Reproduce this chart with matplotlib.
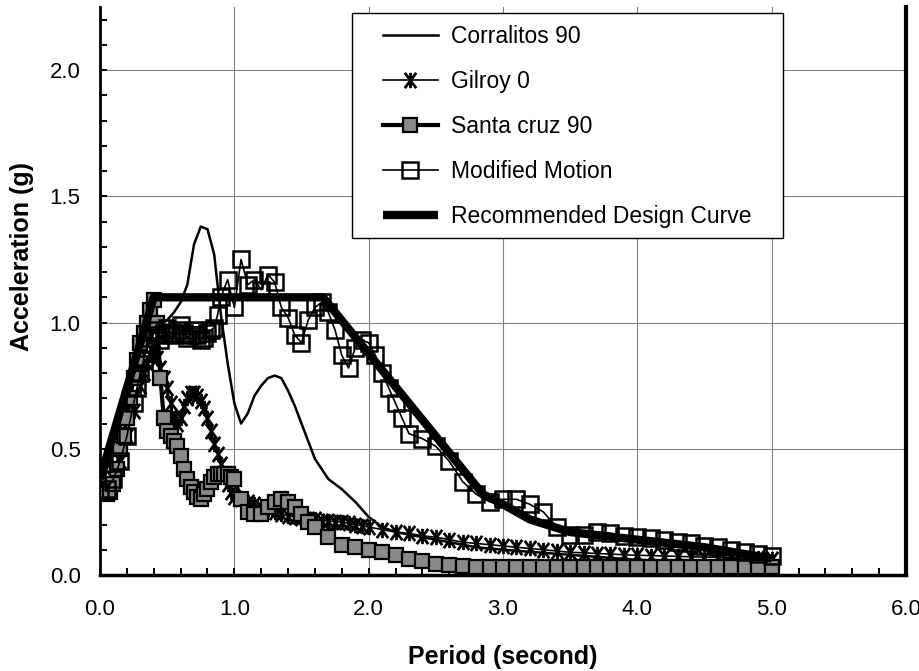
import matplotlib
matplotlib.use('Agg')
from matplotlib import pyplot as plt
from matplotlib.path import Path
from matplotlib.patches import Rectangle
from matplotlib.ticker import MultipleLocator, FormatStrFormatter

plt.rcParams['font.family'] = ['Liberation Sans', 'DejaVu Sans']

# spectral acceleration (g) vs period (s)
corralitos_t = [0.0, 0.05, 0.1, 0.15, 0.2, 0.25, 0.3, 0.35, 0.4, 0.45, 0.5, 0.55,
                0.6, 0.65, 0.7, 0.75, 0.8, 0.85, 0.9, 0.95, 1.0, 1.05, 1.1, 1.15,
                1.2, 1.25, 1.3, 1.35, 1.4, 1.45, 1.5, 1.6, 1.7, 1.8, 1.9, 2.0,
                2.1, 2.2, 2.4, 2.6, 2.8, 3.0, 3.5, 4.0, 4.5, 5.0]
corralitos_a = [0.40, 0.42, 0.48, 0.58, 0.68, 0.78, 0.86, 0.92, 0.96, 0.99, 1.01, 1.04,
                1.08, 1.15, 1.31, 1.38, 1.37, 1.27, 1.03, 0.84, 0.68, 0.60, 0.64, 0.71,
                0.75, 0.78, 0.79, 0.78, 0.73, 0.67, 0.60, 0.46, 0.38, 0.34, 0.29, 0.23,
                0.19, 0.17, 0.15, 0.13, 0.11, 0.10, 0.08, 0.06, 0.05, 0.04]

gilroy_t = [0.0, 0.05, 0.1, 0.15, 0.2, 0.25, 0.3, 0.325, 0.35, 0.375, 0.4, 0.425,
            0.45, 0.475, 0.5, 0.525, 0.55, 0.575, 0.6, 0.625, 0.65, 0.675, 0.7, 0.725,
            0.75, 0.775, 0.8, 0.825, 0.85, 0.875, 0.9, 0.925, 0.95, 0.975, 1.0, 1.05,
            1.1, 1.15, 1.2, 1.25, 1.3, 1.35, 1.4, 1.45, 1.5, 1.55, 1.6, 1.65,
            1.7, 1.75, 1.8, 1.85, 1.9, 1.95, 2.0, 2.1, 2.2, 2.3, 2.4, 2.5,
            2.6, 2.7, 2.8, 2.9, 3.0, 3.1, 3.2, 3.3, 3.4, 3.5, 3.6, 3.7,
            3.8, 3.9, 4.0, 4.1, 4.2, 4.3, 4.4, 4.5, 4.6, 4.7, 4.8, 4.9, 5.0]
gilroy_a = [0.33, 0.34, 0.38, 0.45, 0.55, 0.65, 0.75, 0.80, 0.84, 0.87, 0.88, 0.86,
            0.82, 0.78, 0.74, 0.68, 0.62, 0.60, 0.62, 0.67, 0.70, 0.72, 0.72, 0.71,
            0.69, 0.66, 0.62, 0.57, 0.52, 0.48, 0.44, 0.40, 0.36, 0.33, 0.31, 0.30,
            0.29, 0.28, 0.27, 0.26, 0.25, 0.24, 0.235, 0.23, 0.225, 0.22, 0.22, 0.215,
            0.215, 0.21, 0.21, 0.205, 0.20, 0.195, 0.19, 0.18, 0.17, 0.165, 0.155, 0.15,
            0.14, 0.13, 0.125, 0.12, 0.115, 0.11, 0.105, 0.10, 0.095, 0.09, 0.088, 0.085,
            0.083, 0.08, 0.078, 0.077, 0.075, 0.074, 0.072, 0.071, 0.07, 0.068, 0.067, 0.066, 0.065]

santa_cruz_t = [0.0, 0.025, 0.05, 0.075, 0.1, 0.125, 0.15, 0.175, 0.2, 0.225, 0.25, 0.275,
                0.3, 0.325, 0.35, 0.375, 0.4, 0.425, 0.45, 0.475, 0.5, 0.525, 0.55, 0.575,
                0.6, 0.625, 0.65, 0.675, 0.7, 0.725, 0.75, 0.775, 0.8, 0.825, 0.85, 0.875,
                0.9, 0.925, 0.95, 0.975, 1.0, 1.05, 1.1, 1.15, 1.2, 1.25, 1.3, 1.35,
                1.4, 1.45, 1.5, 1.55, 1.6, 1.7, 1.8, 1.9, 2.0, 2.1, 2.2, 2.3,
                2.4, 2.5, 2.6, 2.7, 2.8, 2.9, 3.0, 3.1, 3.2, 3.3, 3.4, 3.5,
                3.6, 3.7, 3.8, 3.9, 4.0, 4.1, 4.2, 4.3, 4.4, 4.5, 4.6, 4.7,
                4.8, 4.9, 5.0]
santa_cruz_a = [0.33, 0.33, 0.32, 0.33, 0.36, 0.42, 0.50, 0.55, 0.62, 0.70, 0.78, 0.85,
                0.92, 0.96, 1.00, 1.05, 1.09, 1.00, 0.78, 0.62, 0.57, 0.55, 0.53, 0.51,
                0.47, 0.42, 0.38, 0.35, 0.33, 0.31, 0.30, 0.32, 0.34, 0.37, 0.39, 0.40,
                0.40, 0.40, 0.40, 0.39, 0.38, 0.30, 0.25, 0.24, 0.24, 0.27, 0.29, 0.30,
                0.29, 0.27, 0.24, 0.21, 0.19, 0.15, 0.12, 0.11, 0.10, 0.09, 0.08, 0.065,
                0.055, 0.045, 0.04, 0.035, 0.033, 0.032, 0.032, 0.031, 0.031, 0.031, 0.03, 0.03,
                0.03, 0.03, 0.03, 0.03, 0.03, 0.03, 0.03, 0.03, 0.03, 0.03, 0.03, 0.03,
                0.03, 0.03, 0.03]

modified_t = [0.0, 0.05, 0.1, 0.15, 0.2, 0.25, 0.275, 0.3, 0.325, 0.35, 0.375, 0.4,
              0.425, 0.45, 0.475, 0.5, 0.525, 0.55, 0.575, 0.6, 0.625, 0.65, 0.675, 0.7,
              0.725, 0.75, 0.775, 0.8, 0.825, 0.85, 0.875, 0.9, 0.95, 1.0, 1.05, 1.1,
              1.15, 1.2, 1.25, 1.3, 1.35, 1.4, 1.45, 1.5, 1.55, 1.6, 1.65, 1.7,
              1.75, 1.8, 1.85, 1.9, 1.95, 2.0, 2.05, 2.1, 2.15, 2.2, 2.25, 2.3,
              2.4, 2.5, 2.6, 2.7, 2.8, 2.9, 3.0, 3.1, 3.2, 3.3, 3.4, 3.5,
              3.6, 3.7, 3.8, 3.9, 4.0, 4.1, 4.2, 4.3, 4.4, 4.5, 4.6, 4.7,
              4.8, 4.9, 5.0]
modified_a = [0.33, 0.34, 0.38, 0.45, 0.55, 0.68, 0.74, 0.80, 0.85, 0.90, 0.94, 0.97,
              0.95, 0.93, 0.96, 0.98, 0.96, 0.95, 0.97, 0.99, 0.96, 0.94, 0.95, 0.97,
              0.95, 0.93, 0.94, 0.96, 0.97, 0.98, 1.03, 1.10, 1.17, 1.06, 1.25, 1.15,
              1.17, 1.13, 1.19, 1.16, 1.06, 1.02, 0.95, 0.92, 1.01, 1.06, 1.08, 1.04,
              0.97, 0.87, 0.82, 0.90, 0.93, 0.92, 0.87, 0.80, 0.74, 0.68, 0.62, 0.56,
              0.54, 0.51, 0.45, 0.37, 0.32, 0.29, 0.30, 0.30, 0.28, 0.25, 0.19, 0.16,
              0.16, 0.17, 0.165, 0.155, 0.15, 0.145, 0.14, 0.13, 0.125, 0.115, 0.11, 0.10,
              0.09, 0.085, 0.075]

design_t = [0.0, 0.4, 1.66, 2.85, 3.0, 3.2, 3.5, 4.0, 4.5, 5.0]
design_a = [0.38, 1.1, 1.1, 0.32, 0.28, 0.22, 0.17, 0.14, 0.11, 0.065]

# asterisk-like marker: vertical bar crossed by an X
gilroy_marker = Path([(0, -1), (0, 1), (-0.75, -1), (0.75, 1), (-0.75, 1), (0.75, -1)],
                     [Path.MOVETO, Path.LINETO, Path.MOVETO, Path.LINETO,
                      Path.MOVETO, Path.LINETO])

fig = plt.figure(figsize=(9.2, 6.71), dpi=100)
ax = fig.add_axes([100 / 920, 1 - 575 / 671, 806 / 920, 568 / 671])

l1, = ax.plot(corralitos_t, corralitos_a, color='black', lw=1.8, zorder=3)
l2, = ax.plot(gilroy_t, gilroy_a, color='black', lw=1.2, marker=gilroy_marker,
              ms=11, mfc='none', mec='black', mew=2.0, zorder=3)
l3, = ax.plot(santa_cruz_t, santa_cruz_a, color='black', lw=3, marker='s', ms=10,
              mfc='#8a8a8a', mec='black', mew=1.6, zorder=3)
l4, = ax.plot(modified_t, modified_a, color='black', lw=1.2, marker='s', ms=11,
              mfc='none', mec='black', mew=1.8, zorder=3)
l5, = ax.plot(design_t, design_a, color='black', lw=6, solid_capstyle='butt', zorder=3)

ax.set_xlim(0, 6)
ax.set_ylim(0, 2.25)
ax.xaxis.set_major_locator(MultipleLocator(1.0))
ax.xaxis.set_minor_locator(MultipleLocator(0.2))
ax.yaxis.set_major_locator(MultipleLocator(0.5))
ax.yaxis.set_minor_locator(MultipleLocator(0.1))
ax.xaxis.set_major_formatter(FormatStrFormatter('%.1f'))
ax.yaxis.set_major_formatter(FormatStrFormatter('%.1f'))
ax.grid(True, which='major', color='#808080', lw=0.8)
ax.set_axisbelow(True)

ax.tick_params(which='both', direction='in', top=False, right=False, width=1.4)
ax.tick_params(which='major', length=5, labelsize=16)
ax.tick_params(which='minor', length=5)
ax.tick_params(axis='x', which='major', pad=17)
ax.tick_params(axis='y', which='major', pad=14)

ax.spines['top'].set_visible(False)
ax.spines['left'].set_linewidth(2)
ax.spines['bottom'].set_linewidth(2.5)
ax.spines['right'].set_linewidth(3)

ax.set_xlabel('Period (second)', fontsize=18, fontweight='bold')
ax.set_ylabel('Acceleration (g)', fontsize=18, fontweight='bold')
ax.xaxis.set_label_coords(0.5, -0.123)
ax.yaxis.set_label_coords(-0.082, 0.56)

# legend box
box = Rectangle(((352 - 100) / 806, (575 - 238) / 568), 431 / 806, 225 / 568,
                transform=ax.transAxes, facecolor='white', edgecolor='black',
                lw=1.0, zorder=4)
ax.add_patch(box)
leg = ax.legend([l1, l2, l3, l4, l5],
                ['Corralitos 90', 'Gilroy 0', 'Santa cruz 90', 'Modified Motion',
                 'Recommended Design Curve'],
                loc='upper left', bbox_to_anchor=(0.351, 0.9675), borderaxespad=0,
                borderpad=0, frameon=False, fontsize=16.5, handlelength=2.4,
                handletextpad=0.56, labelspacing=0.95, numpoints=1)
leg.set_zorder(5)

fig.savefig('out.png', dpi=100)
